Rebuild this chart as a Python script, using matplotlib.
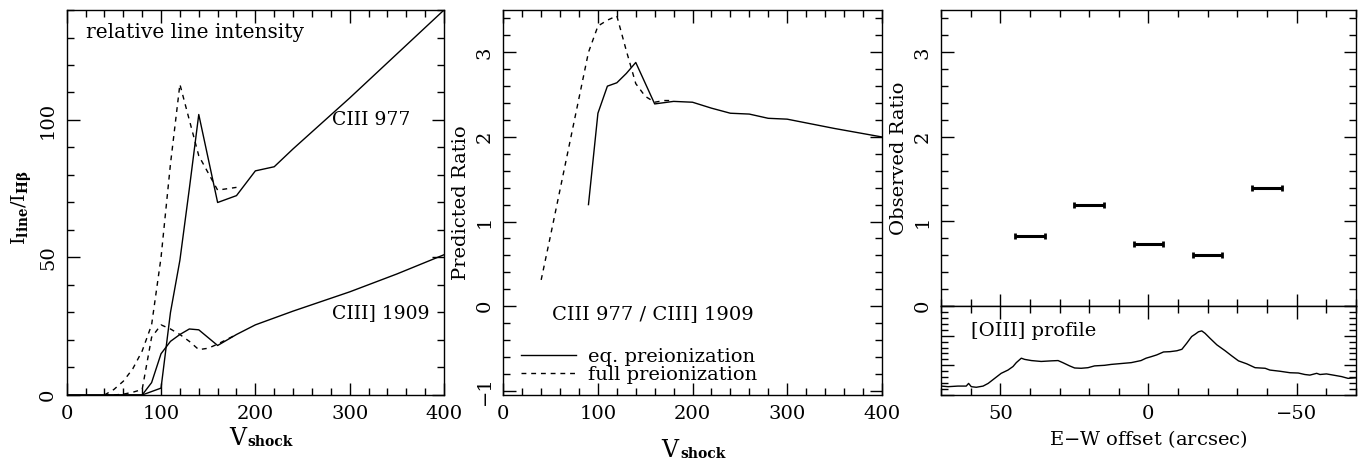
import matplotlib
matplotlib.use("Agg")
import matplotlib.pyplot as plt
from matplotlib.ticker import MultipleLocator, NullFormatter

plt.rcParams['font.family'] = ['DejaVu Serif']
plt.rcParams['mathtext.fontset'] = 'dejavuserif'
plt.rcParams['font.size'] = 14

# left panel: line intensities relative to H-beta
v_977_eq = [0, 20, 40, 60, 80, 100, 110, 120, 130, 140, 160, 180, 200, 220, 240, 300, 350, 400]
i_977_eq = [0, 0, 0, 0, 0, 2.5, 30, 49, 75, 102, 70, 72.5, 81.5, 83, 89.5, 108, 124, 140]
v_1909_eq = [0, 20, 40, 60, 80, 90, 100, 110, 120, 130, 140, 160, 180, 200, 220, 240, 300, 350, 400]
i_1909_eq = [0, 0, 0, 0, 0, 4.5, 15, 19.5, 22, 24, 23.7, 18, 22, 25.5, 28, 30.5, 37.5, 44, 51]
v_977_full = [40, 50, 60, 70, 80, 90, 100, 110, 120, 140, 160, 180]
i_977_full = [0, 2, 5, 9.5, 16, 25.5, 50, 84, 113, 87, 74.5, 75.5]
v_1909_full = [40, 50, 60, 70, 80, 90, 100, 110, 120, 130, 140, 150, 160, 180]
i_1909_full = [0, 0, 0.3, 1, 2, 21, 25.5, 24, 22, 19.5, 16.5, 17, 18.5, 22]

# middle panel: predicted ratio
v_ratio_eq = [90, 100, 110, 120, 130, 140, 160, 180, 200, 220, 240, 260, 280, 300, 350, 400]
r_ratio_eq = [1.2, 2.28, 2.6, 2.64, 2.75, 2.88, 2.39, 2.42, 2.41, 2.34, 2.28, 2.27, 2.22, 2.21, 2.1, 2.0]
v_ratio_full = [40, 50, 60, 70, 80, 90, 100, 110, 120, 130, 140, 150, 160, 170, 180]
r_ratio_full = [0.31, 0.84, 1.38, 1.92, 2.46, 3.0, 3.31, 3.38, 3.43, 3.02, 2.63, 2.48, 2.41, 2.43, 2.43]

# right panel: observed ratio
obs_offset = [40, 20, 0, -20, -40]
obs_ratio = [0.83, 1.20, 0.73, 0.60, 1.40]
obs_halfwidth = [5, 5, 5, 5, 5]

# [OIII] profile (arbitrary units)
prof_offset = [69.9, 67.6, 64.3, 61.5, 60.7, 59.8, 58.1, 55.8, 54.1, 51.9, 49.7, 47.4, 45.7,
               44.6, 42.9, 41.8, 39.5, 36.2, 32.8, 30.5, 28.9, 26.6, 24.9, 22.7, 20.4, 18.2,
               14.8, 12.6, 9.2, 5.8, 2.5, 0.8, -0.9, -2.8, -5.1, -7.3, -9.6, -11.3, -12.9,
               -14.6, -15.8, -16.9, -18.0, -19.1, -20.8, -23.1, -25.9, -28.1, -30.4, -33.2,
               -36.0, -39.4, -41.0, -44.4, -47.8, -50.6, -52.8, -54.5, -56.8, -57.9, -60.1,
               -62.4, -65.2, -67.4, -70.0]
prof_flux = [0.30, 0.28, 0.30, 0.30, 0.39, 0.28, 0.26, 0.30, 0.39, 0.56, 0.73, 0.84, 0.96,
             1.09, 1.24, 1.20, 1.16, 1.13, 1.15, 1.16, 1.09, 0.98, 0.91, 0.90, 0.92, 0.98,
             1.00, 1.03, 1.06, 1.09, 1.16, 1.24, 1.29, 1.35, 1.45, 1.46, 1.49, 1.54, 1.74,
             1.97, 2.05, 2.13, 2.16, 2.08, 1.91, 1.69, 1.49, 1.32, 1.15, 1.05,
             0.92, 0.90, 0.84, 0.80, 0.75, 0.74, 0.69, 0.67, 0.73, 0.69, 0.71,
             0.67, 0.62, 0.56, 0.58]

dash = (0, (3.5, 3.5))


def style_axes(ax, xmaj, xmin, ymaj, ymin):
    ax.xaxis.set_major_locator(MultipleLocator(xmaj))
    ax.xaxis.set_minor_locator(MultipleLocator(xmin))
    ax.yaxis.set_major_locator(MultipleLocator(ymaj))
    ax.yaxis.set_minor_locator(MultipleLocator(ymin))
    ax.tick_params(which='both', direction='in', top=True, right=True, width=1)
    ax.tick_params(which='major', length=9, pad=7)
    ax.tick_params(which='minor', length=5)
    ax.tick_params(axis='y', labelrotation=90)
    for lab in ax.get_yticklabels():
        lab.set_va('center')
    for s in ax.spines.values():
        s.set_linewidth(1)


def vshock_label(ax, xfrac, yfrac):
    ax.set_xlabel('V', fontsize=17)
    ax.xaxis.set_label_coords(xfrac, yfrac)
    ax.annotate('shock', xy=(1, 0), xycoords=ax.xaxis.label, xytext=(1, 1),
                textcoords='offset points', ha='left', va='bottom',
                fontsize=10, fontweight='bold')


fig = plt.figure(figsize=(13.67, 4.61), dpi=100)

# left panel
ax1 = fig.add_axes([0.0488, 0.1432, 0.2760, 0.8351])
ax1.plot(v_977_eq, i_977_eq, 'k-', lw=1)
ax1.plot(v_1909_eq, i_1909_eq, 'k-', lw=1)
ax1.plot(v_977_full, i_977_full, color='k', ls=dash, lw=1)
ax1.plot(v_1909_full, i_1909_full, color='k', ls=dash, lw=1)
ax1.set_xlim(0, 400)
ax1.set_ylim(0, 140)
style_axes(ax1, 100, 20, 50, 10)
vshock_label(ax1, 0.453, -0.083)
ax1.set_ylabel(r'$\mathrm{I}_{\mathbf{line}}\mathrm{/I}_{\mathbf{H\beta}}$')
ax1.yaxis.set_label_coords(-0.088, 0.487)
ax1.text(20, 132, 'relative line intensity', va='center', ha='left', fontsize=14.5)
ax1.text(281, 100, 'CIII 977', va='center', ha='left', fontsize=13.5)
ax1.text(281, 29.7, 'CIII] 1909', va='center', ha='left', fontsize=13.5)

# middle panel
ax2 = fig.add_axes([0.3682, 0.1432, 0.2768, 0.8351])
ax2.plot(v_ratio_eq, r_ratio_eq, 'k-', lw=1, label='eq. preionization')
ax2.plot(v_ratio_full, r_ratio_full, color='k', ls=dash, lw=1, label='full preionization')
ax2.set_xlim(0, 400)
ax2.set_ylim(-1.05, 3.5)
style_axes(ax2, 100, 20, 1, 0.2)
vshock_label(ax2, 0.4405, -0.115)
ax2.set_ylabel('Predicted Ratio')
ax2.yaxis.set_label_coords(-0.088, 0.5)
ax2.text(51, -0.09, 'CIII 977 / CIII] 1909', va='center', ha='left', fontsize=14)
ax2.legend(loc='lower left', bbox_to_anchor=(0.018, 0.0), frameon=False, fontsize=14,
           handlelength=2.86, handletextpad=0.57, labelspacing=0.03, borderaxespad=0.15)

# right panel, observed ratio
ax3 = fig.add_axes([0.6884, 0.3362, 0.3034, 0.6421])
ax3.errorbar(obs_offset, obs_ratio, xerr=obs_halfwidth, fmt='none', ecolor='k',
             elinewidth=2.2, capsize=2.5, capthick=2)
ax3.set_xlim(70, -70)
ax3.set_ylim(0, 3.5)
style_axes(ax3, 50, 10, 1, 0.2)
ax3.xaxis.set_major_formatter(NullFormatter())
ax3.set_ylabel('Observed Ratio')
ax3.yaxis.set_label_coords(-0.08, 0.5)

# right panel, [OIII] profile
ax4 = fig.add_axes([0.6884, 0.1432, 0.3034, 0.1931])
ax4.plot(prof_offset, prof_flux, 'k-', lw=1)
ax4.set_xlim(70, -70)
ax4.set_ylim(0, 3)
style_axes(ax4, 50, 10, 1, 0.2)
ax4.yaxis.set_major_formatter(NullFormatter())
ax4.set_xlabel('E$-$W offset (arcsec)')
ax4.xaxis.set_label_coords(0.5, -0.37)
ax4.text(59.8, 2.17, '[OIII] profile', va='center', ha='left', fontsize=14)

fig.savefig('out.png', dpi=100)
